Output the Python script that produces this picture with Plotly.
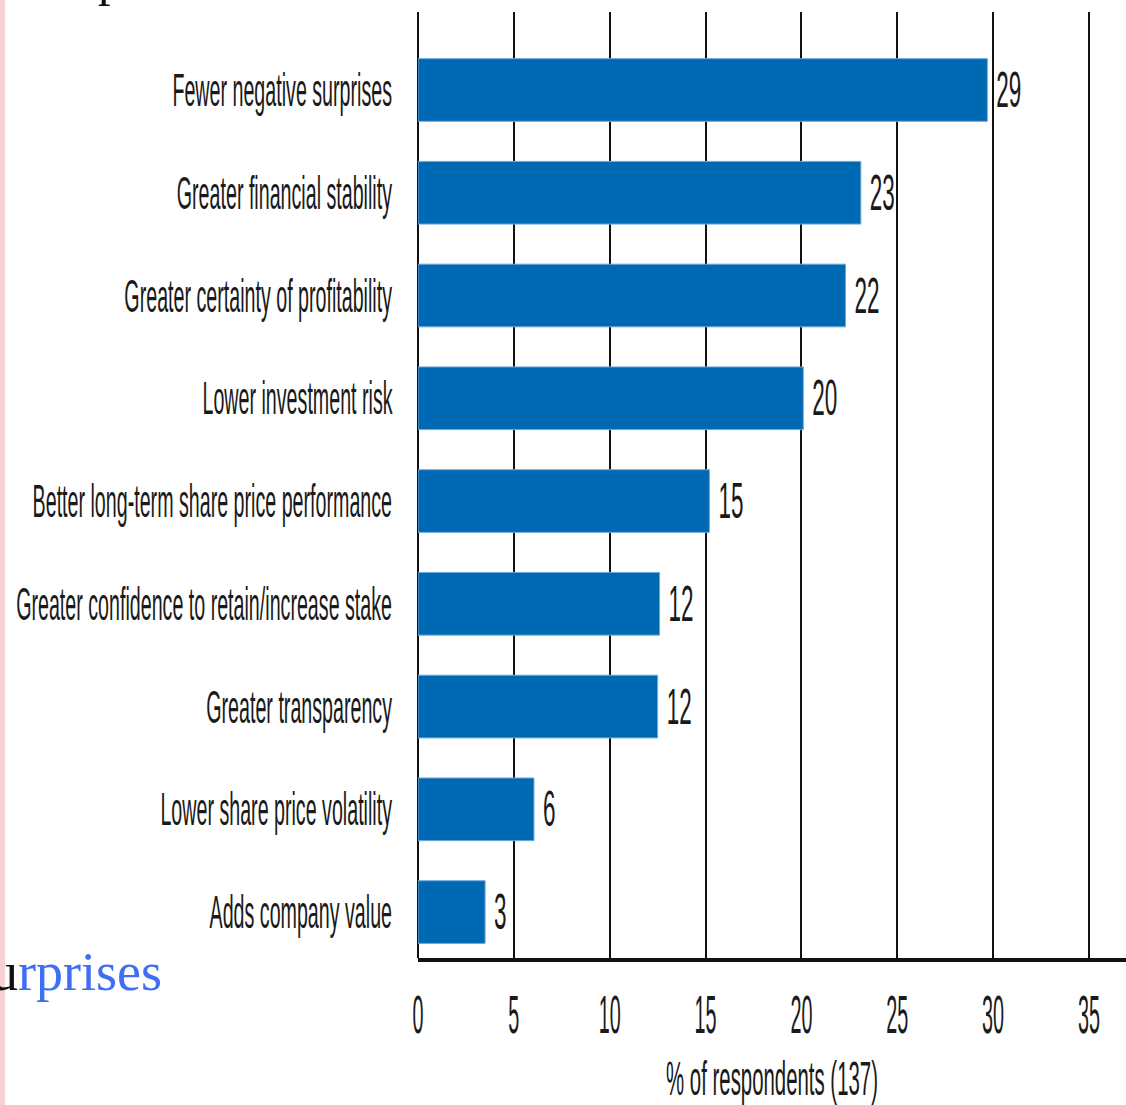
import plotly.graph_objects as go

categories = [
    "Fewer negative surprises",
    "Greater financial stability",
    "Greater certainty of profitability",
    "Lower investment risk",
    "Better long-term share price performance",
    "Greater confidence to retain/increase stake",
    "Greater transparency",
    "Lower share price volatility",
    "Adds company value",
]
bar_values = [29.7, 23.1, 22.3, 20.1, 15.2, 12.6, 12.5, 6.05, 3.5]
value_labels = ["29", "23", "22", "20", "15", "12", "12", "6", "3"]
x_ticks = [0, 5, 10, 15, 20, 25, 30, 35]
x_title = "% of respondents (137)"

W, H = 1126, 1105
ML, MR, MT, MB = 418, 0, 12, 147
PW, PH = W - ML - MR, H - MT - MB
PX_PER_UNIT = 19.17

FONT = "Liberation Sans, Arial, sans-serif"
INK = "#1a1a1a"

fig = go.Figure(
    go.Bar(
        y=categories,
        x=bar_values,
        orientation="h",
        marker=dict(color="#0069b4", line=dict(color="#6fa8dc", width=1)),
        width=0.61,
        text=value_labels,
        textposition="outside",
        constraintext="none",
        textfont=dict(family=FONT, size=50, color=INK),
        cliponaxis=False,
    )
)

fig.update_layout(
    width=W,
    height=H,
    margin=dict(l=ML, r=MR, t=MT, b=MB, pad=0),
    paper_bgcolor="white",
    plot_bgcolor="white",
    showlegend=False,
    font=dict(family=FONT, color=INK),
    xaxis=dict(
        range=[0, PW / PX_PER_UNIT],
        tickvals=x_ticks,
        ticktext=[str(v) for v in x_ticks],
        showgrid=True,
        gridcolor="#111111",
        gridwidth=2,
        zeroline=True,
        zerolinecolor="#111111",
        zerolinewidth=2,
        showline=True,
        linecolor="#111111",
        linewidth=4,
        ticks="",
        automargin=False,
        ticklabelstandoff=6,
        tickfont=dict(family=FONT, size=54, color=INK),
        title=dict(text=x_title, font=dict(family=FONT, size=48, color=INK), standoff=34),
    ),
    yaxis=dict(
        categoryorder="array",
        categoryarray=categories,
        range=[8.447, -0.759],
        showgrid=False,
        showline=False,
        ticks="",
        automargin=False,
        ticklabelstandoff=25,
        tickfont=dict(family=FONT, size=46, color=INK),
    ),
    shapes=[
        dict(
            type="rect", xref="paper", yref="paper",
            x0=-ML / PW, x1=(5 - ML) / PW,
            y0=-MB / PH, y1=1 + MT / PH,
            fillcolor="#f6d2d4", line=dict(width=0), layer="above",
        )
    ],
    annotations=[
        dict(
            text="<span style='color:#111111'>u</span>rprises",
            xref="paper", yref="paper",
            x=(164 - ML) / PW, y=(958 - 1004) / PH,
            xanchor="right", yanchor="bottom",
            showarrow=False,
            font=dict(family="Liberation Serif, DejaVu Serif, serif", size=54, color="#3d6ef5"),
        ),
        dict(
            text="p",
            xref="paper", yref="paper",
            x=(110 - ML) / PW, y=(958 - 8) / PH,
            xanchor="center", yanchor="bottom",
            showarrow=False,
            font=dict(family="Liberation Serif, DejaVu Serif, serif", size=50, color="#111111"),
        ),
    ],
)

# Remove the page's default body margin and narrow the compressed-style lettering.
post_js = """
document.documentElement.style.margin = '0';
document.body.style.margin = '0';
document.body.style.overflow = 'hidden';
var gd = document.getElementById('{plot_id}');
function squeeze(sel, target, refText, mode, dx) {
  var els = Array.prototype.slice.call(gd.querySelectorAll(sel));
  if (!els.length) return;
  var ref = 0;
  els.forEach(function (t) {
    var w = t.getBBox().width;
    if (refText === null) { if (w > ref) ref = w; }
    else if (t.textContent === refText) { ref = w; }
  });
  if (!ref) return;
  var sx = target / ref;
  els.forEach(function (t) {
    var bb = t.getBBox();
    var ax = mode === 'end' ? bb.x + bb.width : (mode === 'start' ? bb.x : bb.x + bb.width / 2);
    var tr = t.getAttribute('transform') || '';
    t.setAttribute('transform', tr + ' translate(' + (ax + dx) + ',0) scale(' + sx + ',1) translate(' + (-ax) + ',0)');
  });
}
squeeze('.ytick text', 376, null, 'end', 0);
squeeze('.xtick text', 22, '10', 'middle', 0);
squeeze('.g-xtitle text', 212, null, 'middle', 0);
squeeze('text.bartext', 25, '29', 'start', 6);
"""

fig.write_html("out.html", post_script=post_js, config={"displayModeBar": False})
